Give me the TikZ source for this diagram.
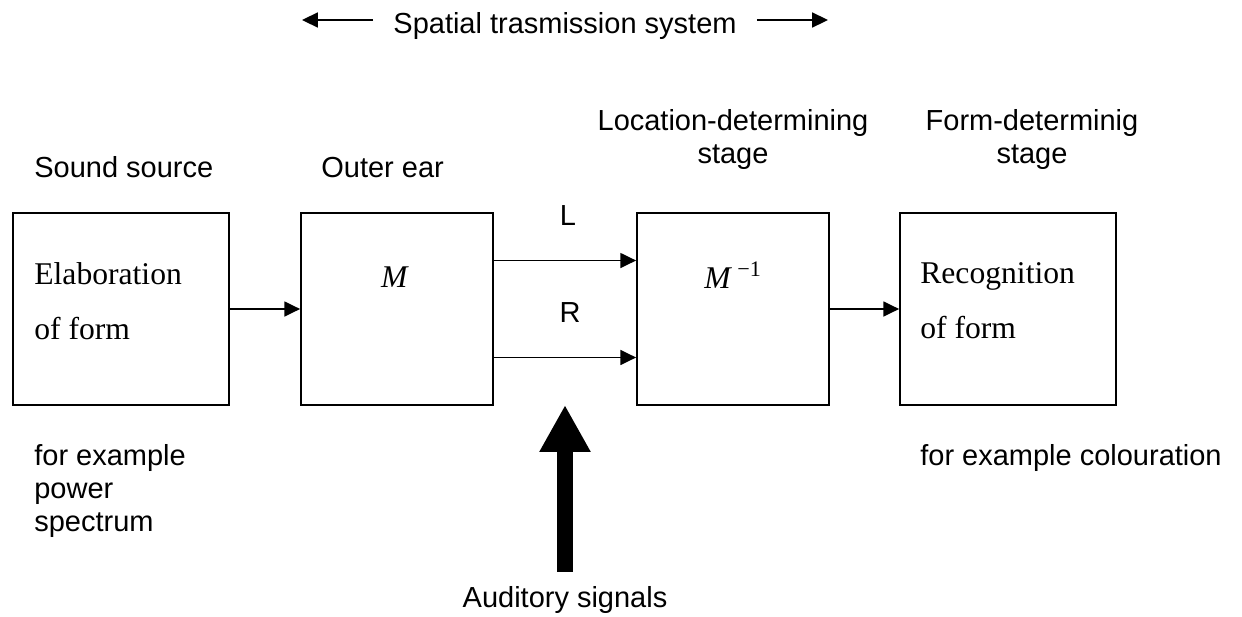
\documentclass[tikz,border=0pt]{standalone}
\usepackage{fontspec}
\setmainfont{Liberation Serif}
\setsansfont{Liberation Sans}
\usepackage{tikz}
\usetikzlibrary{arrows.meta}

\begin{document}
\begin{tikzpicture}[x=0.02cm,y=-0.02cm,
  stage/.style={draw,line width=1pt,minimum width=3.84cm,minimum height=3.84cm,inner sep=0pt},
  lbl/.style={font=\sffamily\fontsize{16.5}{18.8}\selectfont,inner sep=0pt},
  txt/.style={font=\fontsize{18}{31.3}\selectfont,inner sep=0pt},
  arr/.style={-{Triangle[length=9pt,width=8.5pt]},line width=1pt}]
\useasboundingbox (0,0) rectangle (1242,616);

% Transmission system
\node[lbl,anchor=base] (sys) at (565,33) {Spatial trasmission system};
\coordinate (sysl) at (302,20);
\coordinate (sysr) at (828,20);
\draw[arr,shorten <=0.4cm] (sys.west |- sysl) -- (sysl);
\draw[arr,shorten <=0.4cm] (sys.east |- sysr) -- (sysr);

% Blocks
\node[stage,minimum width=4.32cm] (src) at (121,309) {};
\node[stage] (ear) at (397,309) {};
\node[stage] (loc) at (733,309) {};
\node[stage,minimum width=4.32cm] (rec) at (1008,309) {};

% Block contents
\node[txt,align=left,anchor=north west] (srctxt) at (34,262) {Elaboration\\of form};
\node[txt,anchor=base] (mdir) at (395,287) {\textit{M}};
\node[txt,anchor=base] (minv) at (733,288) {\textit{M}\,\textsuperscript{−1}};
\node[txt,align=left,anchor=north west] (rectxt) at (920,262) {Recognition\\of form};

% Headings
\node[lbl,anchor=base west] (srchd) at (34,177) {Sound source};
\node[lbl,anchor=base west] (earhd) at (321,177) {Outer ear};
\node[lbl,align=center,anchor=north] (lochd) at (733,109) {Location-determining\\stage};
\node[lbl,align=center,anchor=north] (rechd) at (1032,109) {Form-determinig\\stage};

% Signals
\draw[arr] (src) -- (ear);
\draw[arr] ([yshift=0.97cm]ear.east) -- ([yshift=0.97cm]loc.west);
\draw[arr] ([yshift=-0.97cm]ear.east) -- ([yshift=-0.97cm]loc.west);
\draw[arr] (loc) -- (rec);
\node[lbl,anchor=base] (left) at (568,225) {L};
\node[lbl,anchor=base] (right) at (570,322) {R};

% Examples
\node[lbl,align=left,anchor=north west] (srcex) at (34,444) {for example\\power\\spectrum};
\node[lbl,anchor=base west] (recex) at (920,465) {for example colouration};

% Auditory signals
\coordinate (sig) at (565,405);
\node[lbl,anchor=base] (aud) at (565,607) {Auditory signals};
\draw[line width=0.32cm,-{Triangle[length=0.94cm,width=0.96cm]}] ([yshift=0.28cm]aud.north) -- (sig);
\end{tikzpicture}
\end{document}
